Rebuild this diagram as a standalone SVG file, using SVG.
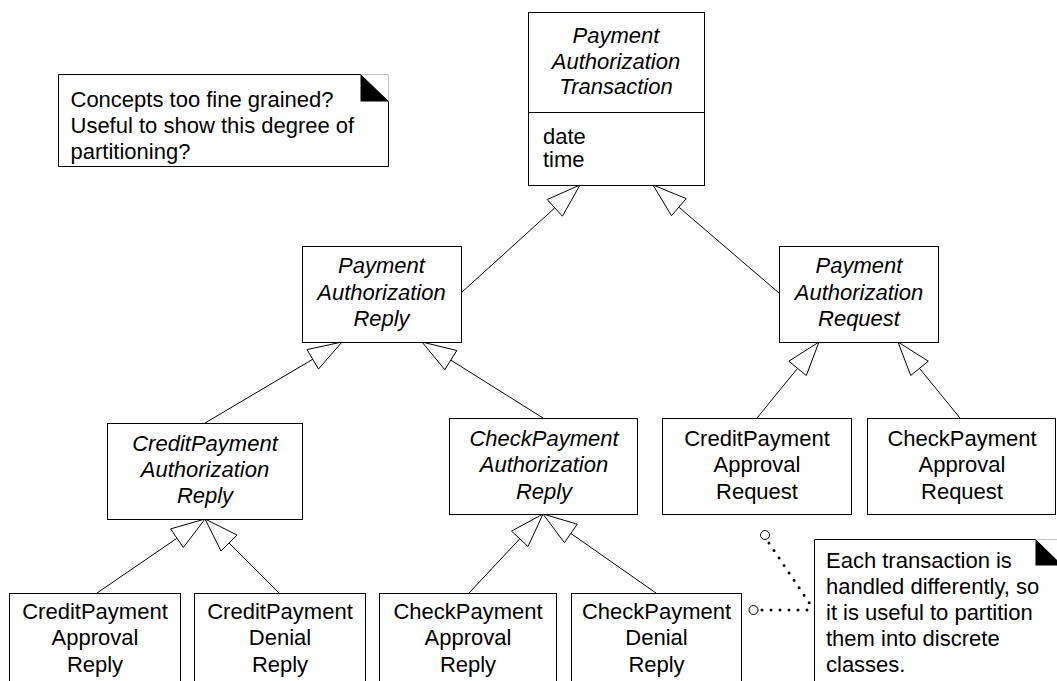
<svg xmlns="http://www.w3.org/2000/svg" width="1057" height="681" viewBox="0 0 1057 681">
<style>
.box{fill:#fff;stroke:#000;stroke-width:1}
.t{font-family:"Liberation Sans",Arial,sans-serif;font-size:22px;fill:#000}
.c{text-anchor:middle}
.i{font-style:italic}
.ln{stroke:#000;stroke-width:1;fill:none}
.tri{fill:#fff;stroke:#000;stroke-width:1}
.dot{stroke:#000;stroke-width:3;stroke-linecap:round;stroke-dasharray:0 9;fill:none}
.ring{fill:#fff;stroke:#000;stroke-width:1}
.ear{fill:#000}
.faint{stroke:#c4c4c4;stroke-width:1;fill:none}
</style>
<rect width="1057" height="681" fill="#fff"/>

<g id="connectors">
  <line class="ln" x1="461" y1="293" x2="554.8" y2="207.9"/>
  <polygon class="tri" points="580,185 547.2,199.5 562.4,216.2"/>
  <line class="ln" x1="779" y1="293" x2="678.8" y2="207.1"/>
  <polygon class="tri" points="653,185 671.5,215.7 686.2,198.6"/>
  <line class="ln" x1="205" y1="423" x2="312.7" y2="359.3"/>
  <polygon class="tri" points="342,342 307,349.6 318.5,369"/>
  <line class="ln" x1="543" y1="418" x2="450.8" y2="360.1"/>
  <polygon class="tri" points="422,342 444.8,369.7 456.8,350.5"/>
  <line class="ln" x1="757" y1="418" x2="797.5" y2="368.4"/>
  <polygon class="tri" points="819,342 788.8,361.2 806.3,375.5"/>
  <line class="ln" x1="960" y1="418" x2="919.5" y2="368.4"/>
  <polygon class="tri" points="898,342 910.7,375.5 928.3,361.2"/>
  <line class="ln" x1="97" y1="593" x2="177" y2="538.2"/>
  <polygon class="tri" points="205,519 170.6,528.9 183.3,547.5"/>
  <line class="ln" x1="279" y1="593" x2="229" y2="543"/>
  <polygon class="tri" points="205,519 221,551 237,535"/>
  <line class="ln" x1="469" y1="593" x2="519.8" y2="538.8"/>
  <polygon class="tri" points="543,514 511.5,531.1 528,546.5"/>
  <line class="ln" x1="656" y1="593" x2="570.9" y2="533.5"/>
  <polygon class="tri" points="543,514 564.4,542.7 577.3,524.2"/>
  <line class="dot" x1="762" y1="610" x2="814" y2="610"/>
  <line class="dot" x1="769" y1="543" x2="810" y2="604"/>
  <circle class="ring" cx="753.5" cy="610" r="4.5"/>
  <circle class="ring" cx="765" cy="535" r="4.5"/>
</g>

<g id="note-top">
  <path class="faint" d="M360.5,74.5 H388.5 V101.5"/>
  <path class="box" d="M58.5,74.5 H360.5 L388.5,101.5 V166.5 H58.5 Z" style="fill:#fff"/>
  <polygon class="ear" points="360.5,74.5 360.5,101.5 388.5,101.5"/>
  <text class="t" x="70.5" y="107">Concepts too fine grained?</text>
  <text class="t" x="70.5" y="133">Useful to show this degree of</text>
  <text class="t" x="70.5" y="159">partitioning?</text>
</g>

<g id="PaymentAuthorizationTransaction">
  <rect class="box" x="528.5" y="12.5" width="176" height="173"/>
  <line class="ln" x1="528.5" y1="112.5" x2="704.5" y2="112.5"/>
  <text class="t c i" x="616" y="43">Payment</text>
  <text class="t c i" x="616" y="69">Authorization</text>
  <text class="t c i" x="616" y="94">Transaction</text>
  <text class="t" x="543" y="144">date</text>
  <text class="t" x="543" y="167">time</text>
</g>

<g id="PaymentAuthorizationReply">
  <rect class="box" x="302.5" y="246.5" width="159" height="96"/>
  <text class="t c i" x="381.5" y="273">Payment</text>
  <text class="t c i" x="381.5" y="300">Authorization</text>
  <text class="t c i" x="381.5" y="326">Reply</text>
</g>

<g id="PaymentAuthorizationRequest">
  <rect class="box" x="779.5" y="246.5" width="159" height="96"/>
  <text class="t c i" x="859" y="273">Payment</text>
  <text class="t c i" x="859" y="300">Authorization</text>
  <text class="t c i" x="859" y="326">Request</text>
</g>

<g id="CreditPaymentAuthorizationReply">
  <rect class="box" x="107.5" y="423.5" width="195" height="96"/>
  <text class="t c i" x="205" y="451">CreditPayment</text>
  <text class="t c i" x="205" y="477">Authorization</text>
  <text class="t c i" x="205" y="503">Reply</text>
</g>

<g id="CheckPaymentAuthorizationReply">
  <rect class="box" x="449.5" y="418.5" width="188" height="96"/>
  <text class="t c i" x="544" y="446">CheckPayment</text>
  <text class="t c i" x="544" y="472">Authorization</text>
  <text class="t c i" x="544" y="499">Reply</text>
</g>

<g id="CreditPaymentApprovalRequest">
  <rect class="box" x="662.5" y="418.5" width="189" height="96"/>
  <text class="t c" x="757" y="446">CreditPayment</text>
  <text class="t c" x="757" y="472">Approval</text>
  <text class="t c" x="757" y="499">Request</text>
</g>

<g id="CheckPaymentApprovalRequest">
  <rect class="box" x="867.5" y="418.5" width="188" height="96"/>
  <text class="t c" x="962" y="446">CheckPayment</text>
  <text class="t c" x="962" y="472">Approval</text>
  <text class="t c" x="962" y="499">Request</text>
</g>

<g id="CreditPaymentApprovalReply">
  <rect class="box" x="9.5" y="593.5" width="171" height="110"/>
  <text class="t c" x="95" y="619">CreditPayment</text>
  <text class="t c" x="95" y="645">Approval</text>
  <text class="t c" x="95" y="672">Reply</text>
</g>

<g id="CreditPaymentDenialReply">
  <rect class="box" x="194.5" y="593.5" width="171" height="110"/>
  <text class="t c" x="280" y="619">CreditPayment</text>
  <text class="t c" x="280" y="645">Denial</text>
  <text class="t c" x="280" y="672">Reply</text>
</g>

<g id="CheckPaymentApprovalReply">
  <rect class="box" x="379.5" y="593.5" width="177" height="110"/>
  <text class="t c" x="468" y="619">CheckPayment</text>
  <text class="t c" x="468" y="645">Approval</text>
  <text class="t c" x="468" y="672">Reply</text>
</g>

<g id="CheckPaymentDenialReply">
  <rect class="box" x="571.5" y="593.5" width="170" height="110"/>
  <text class="t c" x="656.5" y="619">CheckPayment</text>
  <text class="t c" x="656.5" y="645">Denial</text>
  <text class="t c" x="656.5" y="672">Reply</text>
</g>

<g id="note-bottom">
  <path class="faint" d="M1035.5,539.5 H1060"/>
  <path class="box" d="M814.5,700 V539.5 H1035.5 L1062,565.5 V700 Z"/>
  <polygon class="ear" points="1035.5,539.5 1035.5,565.5 1062,565.5"/>
  <text class="t" x="826" y="568">Each transaction is</text>
  <text class="t" x="826" y="594">handled differently, so</text>
  <text class="t" x="826" y="620">it is useful to partition</text>
  <text class="t" x="826" y="646">them into discrete</text>
  <text class="t" x="826" y="672">classes.</text>
</g>
</svg>
